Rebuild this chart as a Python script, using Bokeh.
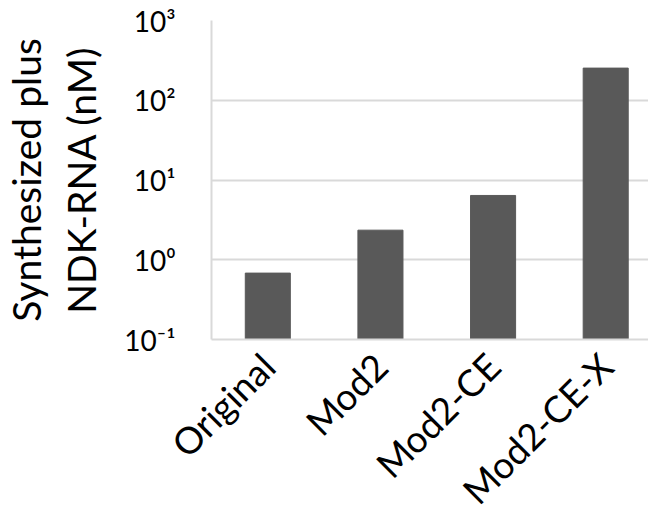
import math
from bokeh.plotting import figure
from bokeh.models import FixedTicker, Range1d
from bokeh.embed import file_html
from bokeh.resources import INLINE

categories = ["Original", "Mod2", "Mod2-CE", "Mod2-CE-X"]
values = [0.68, 2.35, 6.4, 253]
y_ticks = [0.1, 1, 10, 100, 1000]
y_tick_labels = ["10\u207b\u00b9", "10\u2070", "10\u00b9", "10\u00b2", "10\u00b3"]

FONT = "Lato"
xs = list(range(len(categories)))

p = figure(width=646, height=504, y_axis_type="log",
           x_range=Range1d(-0.5, 3.38), y_range=Range1d(0.1, 1000),
           output_backend="svg", toolbar_location=None,
           min_border_left=209, min_border_top=20, min_border_right=0,
           min_border_bottom=165)
p.frame_width = 437
p.frame_height = 319
p.outline_line_color = None

p.vbar(x=xs, top=values, bottom=0.1, width=0.4, fill_color="#595959",
       line_color="#595959")

p.xaxis.ticker = FixedTicker(ticks=xs)
p.xaxis.major_label_overrides = {i: c for i, c in enumerate(categories)}
p.xaxis.major_label_orientation = math.pi / 4
p.xaxis.major_tick_line_color = None
p.xaxis.minor_tick_line_color = None
p.xaxis.axis_line_color = "#d9d9d9"
p.xaxis.axis_line_width = 2
p.xaxis.major_label_text_font = FONT
p.xaxis.major_label_text_font_size = "37px"
p.xaxis.major_label_text_color = "black"
p.xaxis.major_label_standoff = 14
p.xgrid.grid_line_color = None

p.yaxis.ticker = FixedTicker(ticks=y_ticks, minor_ticks=[])
p.yaxis.major_label_overrides = {t: l for t, l in zip(y_ticks, y_tick_labels)}
p.yaxis.major_tick_line_color = None
p.yaxis.minor_tick_line_color = None
p.yaxis.axis_line_color = "#d9d9d9"
p.yaxis.axis_line_width = 2
p.yaxis.major_label_text_font = FONT
p.yaxis.major_label_text_font_size = "28px"
p.yaxis.major_label_text_color = "black"
p.yaxis.major_label_standoff = 30
p.yaxis.axis_label = "Synthesized plus\nNDK-RNA (nM)"
p.yaxis.axis_label_text_font = FONT
p.yaxis.axis_label_text_font_size = "39px"
p.yaxis.axis_label_text_font_style = "normal"
p.yaxis.axis_label_text_color = "black"
p.yaxis.axis_label_standoff = 17
p.ygrid.ticker = FixedTicker(ticks=y_ticks)
p.ygrid.grid_line_color = "#d9d9d9"
p.ygrid.grid_line_width = 2

open("out.html", "w").write(file_html(p, INLINE))
